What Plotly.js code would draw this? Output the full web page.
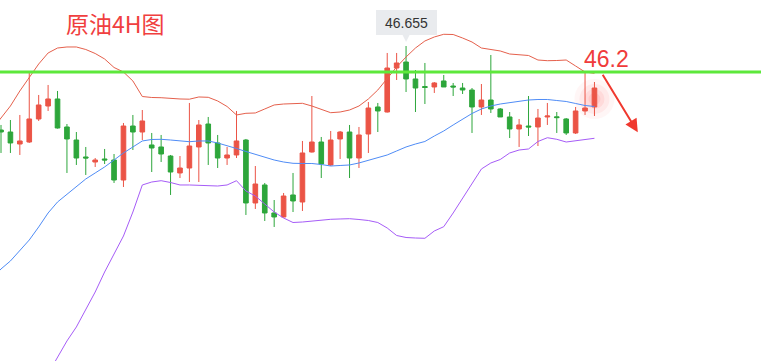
<!DOCTYPE html>
<html>
<head>
<meta charset="utf-8">
<script src="https://cdn.plot.ly/plotly-3.0.1.min.js"></script>
<style>html,body{margin:0;padding:0;background:#fff;}#chart{width:761px;height:361px;}</style>
</head>
<body>
<div id="chart"></div>
<script>
// ---- data (crude oil, 4H candles) ----
const titleText = "原油4H图";
const resistance = 46.2;
const open = [45.185,45.15,44.94,44.975,45.378,45.605,45.728,45.238,45.01,44.713,44.625,44.678,44.66,44.31,45.255,45.15,44.923,44.888,44.73,44.433,44.52,44.888,45.29,44.958,44.695,44.748,45.01,43.908,44.223,43.733,43.663,44.048,43.925,44.8,44.975,44.573,45.028,45.15,44.695,45.115,45.588,45.5,46.27,46.375,46.078,45.946,45.938,46.043,45.955,45.92,45.885,45.588,45.71,45.553,45.413,45.203,45.255,45.238,45.413,45.416,45.378,45.133,45.518,45.588];
const high = [45.273,45.36,45.448,46.183,45.798,45.973,45.868,45.29,45.15,44.888,44.695,44.853,44.765,45.308,45.448,45.535,45.133,45.098,44.748,44.73,45.658,45.36,45.413,45.098,44.888,45.518,45.028,44.555,44.258,43.96,44.083,44.433,44.993,45.78,45.063,45.168,45.168,45.273,45.238,45.675,45.658,46.533,46.533,46.655,46.235,46.358,46.025,46.148,46.008,46.008,45.92,45.99,46.498,45.57,45.5,45.378,45.78,45.553,45.658,45.5,45.395,45.588,46.183,46.025];
const low = [44.783,44.783,44.748,44.958,45.343,45.518,45.21,44.433,44.573,44.398,44.538,44.59,44.258,44.188,44.835,45.01,44.45,44.625,44.048,44.345,44.275,44.275,44.573,44.52,44.573,44.695,43.698,43.803,43.593,43.488,43.654,43.75,43.768,44.79,44.345,44.555,44.678,44.345,44.52,44.783,45.15,45.491,46.06,45.85,45.5,45.64,45.833,45.938,45.78,45.815,45.133,45.448,45.483,45.413,45.045,44.888,45.08,44.905,45.273,45.133,45.098,45.115,45.448,45.43];
const close = [45.15,44.958,44.993,45.378,45.623,45.728,45.22,45.028,44.695,44.695,44.66,44.66,44.31,45.255,45.15,45.343,44.87,44.765,44.45,44.52,44.905,45.273,44.958,44.695,44.748,44.993,43.908,44.24,43.733,43.663,44.03,43.943,44.783,44.975,44.59,45.01,45.15,44.695,45.098,45.57,45.518,46.27,46.358,46.078,45.92,45.929,46.008,45.938,45.938,45.885,45.588,45.71,45.553,45.413,45.203,45.273,45.238,45.395,45.43,45.402,45.133,45.518,45.57,45.92];
// Bollinger bands, first value belongs to the bar before the first visible candle
const bollUpper = [45.185,45.395,45.605,45.868,46.095,46.34,46.533,46.62,46.638,46.638,46.594,46.524,46.428,46.279,46.2,46.043,45.771,45.754,45.75,45.736,45.728,45.724,45.763,45.757,45.693,45.596,45.448,45.477,45.483,45.553,45.623,45.64,45.645,45.652,45.605,45.544,45.488,45.5,45.535,45.605,45.728,45.885,46.095,46.288,46.463,46.62,46.743,46.813,46.86,46.856,46.795,46.725,46.62,46.594,46.568,46.515,46.506,46.489,46.41,46.398,46.401,46.41,46.305,46.2,46.177];
const bollMid = [42.578,42.753,42.893,43.068,43.26,43.488,43.733,43.925,44.065,44.205,44.328,44.433,44.538,44.66,44.783,44.888,44.993,45.019,45.022,45.01,44.993,44.98,44.993,44.993,44.958,44.914,44.861,44.809,44.756,44.704,44.66,44.625,44.602,44.599,44.599,44.581,44.555,44.564,44.573,44.608,44.651,44.695,44.748,44.818,44.888,44.94,44.984,45.08,45.168,45.273,45.378,45.474,45.553,45.605,45.64,45.666,45.684,45.71,45.719,45.719,45.701,45.684,45.649,45.614,45.596];
const bollLower = [null,null,null,null,null,40.635,40.915,41.213,41.493,41.738,42.035,42.35,42.7,43.015,43.33,43.75,44.223,44.275,44.298,44.266,44.223,44.223,44.214,44.214,44.205,44.223,44.298,44.118,44.03,43.89,43.75,43.645,43.566,43.575,43.593,43.61,43.622,43.628,43.633,43.619,43.601,43.566,43.47,43.339,43.304,43.295,43.29,43.418,43.493,43.733,43.995,44.24,44.503,44.608,44.669,44.783,44.835,44.853,44.984,45.05,45.022,44.975,44.998,45.028,45.04];

// ---- derived ----
const idx = open.map((_, i) => i);
const bandX = bollUpper.map((_, i) => i - 1);
const last = open.length - 1;
const maxHigh = Math.max(...high);
const maxIdx = high.indexOf(maxHigh);
const glowY = (high[last] + low[last]) / 2;

const RED = '#eb5446', GREEN = '#2da63b';

const traces = [
  {type:'scatter', mode:'lines', x:bandX, y:bollUpper, line:{color:'#e5604c', width:1}, hoverinfo:'skip'},
  {type:'scatter', mode:'lines', x:bandX, y:bollMid, line:{color:'#4f8cf6', width:1}, hoverinfo:'skip'},
  {type:'scatter', mode:'lines', x:bandX, y:bollLower, line:{color:'#a65cf7', width:1}, hoverinfo:'skip'},
  {type:'candlestick', x:idx, open:open, high:high, low:low, close:close,
   increasing:{line:{color:RED, width:1}, fillcolor:RED},
   decreasing:{line:{color:GREEN, width:1}, fillcolor:GREEN},
   whiskerwidth:0, hoverinfo:'skip'}
];

function glow(r, op){
  return {type:'circle', layer:'below', xref:'x', yref:'y', xsizemode:'pixel', ysizemode:'pixel',
    xanchor:last, yanchor:glowY, x0:-r, x1:r, y0:-r, y1:r,
    fillcolor:'rgba(255,70,70,'+op+')', line:{width:0}};
}

const layout = {
  width:761, height:361,
  margin:{l:0, r:0, t:0, b:0},
  paper_bgcolor:'#ffffff', plot_bgcolor:'#ffffff',
  showlegend:false, hovermode:false,
  title:{text:titleText, x:66/761, xanchor:'left', y:1-25/361, yanchor:'middle',
         font:{family:'"Noto Sans CJK SC", sans-serif', size:23, color:'#f03f3f'}},
  xaxis:{range:[-0.106, 80.68], visible:false, rangeslider:{visible:false}, fixedrange:true},
  yaxis:{range:[41.1425, 47.46], visible:false, fixedrange:true},
  shapes:[
    glow(20, 0.05), glow(15, 0.07), glow(10, 0.09), glow(6, 0.1),
    {type:'line', layer:'above', xref:'paper', x0:0, x1:1, yref:'y', y0:resistance, y1:resistance,
     line:{color:'#5de83b', width:3}},
    {type:'path', xref:'x', yref:'y', xsizemode:'pixel', ysizemode:'pixel', xanchor:maxIdx, yanchor:maxHigh,
     path:'M-4,12L4,12L0,4Z', fillcolor:'#e9ebee', line:{width:0}}
  ],
  annotations:[
    {xref:'x', yref:'y', x:maxIdx, y:maxHigh, yshift:11, xanchor:'center', yanchor:'bottom',
     text:maxHigh.toFixed(3), showarrow:false, width:57, height:21, borderpad:2,
     bgcolor:'#e9ebee', bordercolor:'#e9ebee', borderwidth:0,
     font:{family:'"Liberation Sans", Arial, sans-serif', size:14, color:'#333333'}},
    {xref:'paper', yref:'y', x:606/761, y:resistance, xanchor:'center', yanchor:'bottom', yshift:-2,
     text:String(resistance), showarrow:false,
     font:{family:'"Liberation Sans", Arial, sans-serif', size:23, color:'#f03b3b'}},
    {xref:'x', yref:'y', x:67.6, y:45.145, text:'', showarrow:true, ax:-36, ay:-59,
     arrowhead:2, arrowsize:1.3, arrowwidth:2, arrowcolor:'#f0382e'}
  ]
};

Plotly.newPlot('chart', traces, layout, {staticPlot:true, displayModeBar:false});
</script>
</body>
</html>
